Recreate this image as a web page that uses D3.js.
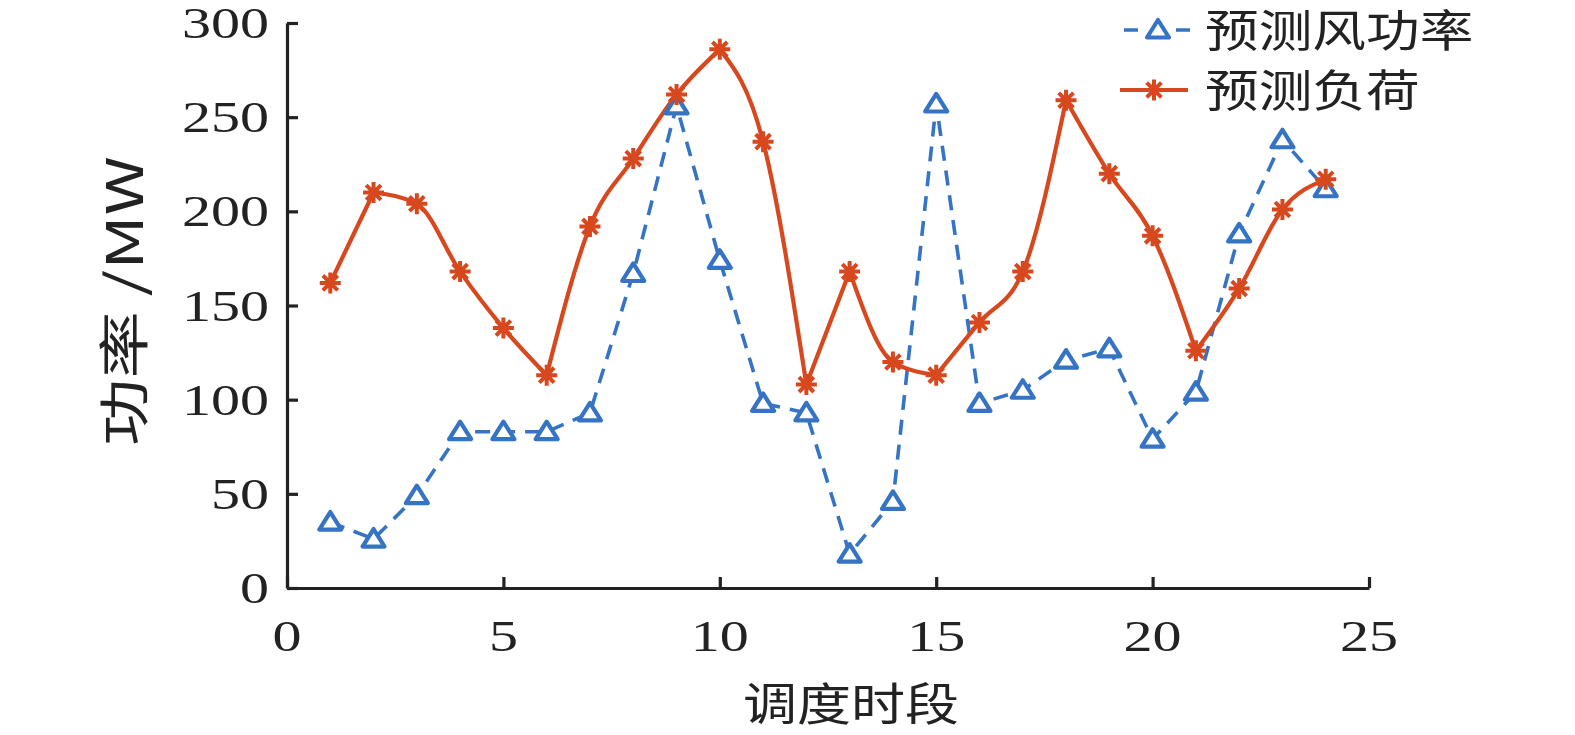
<!DOCTYPE html>
<html><head><meta charset="utf-8">
<script src="https://cdn.jsdelivr.net/npm/d3@7"></script>
<style>body{margin:0;background:#fff}svg{display:block}</style>
</head><body>
<svg id="c" width="1575" height="735"></svg>
<script>
const periods = d3.range(1, 25);
const windPower = [35,26,49,83,83,83,93,167,256,174,98,93,18,46,257,98,105,121,127,79,104,188,238,212];
const loadPower = [162,210,204,168,138,113,192,228,262,286,237,108,168,120,113,141,168,259,220,187,126,159,201,217];
const xTicks = [0,5,10,15,20,25];
const yTicks = [0,50,100,150,200,250,300];
const seriesNames = ["预测风功率","预测负荷"];
const xLabel = "调度时段";
const yLabel = "功率 /MW";

const svg = d3.select("#c");
const m = {l:287, r:1369, t:23, b:588};
const x = d3.scaleLinear().domain([0,25]).range([m.l, m.r]);
const y = d3.scaleLinear().domain([0,300]).range([m.b, m.t]);
const blue = "#3574c4", red = "#d8481f", ink = "#222";
const numFont = "'Liberation Serif', 'DejaVu Serif', serif";
const cjkFont = "'Noto Sans CJK SC', sans-serif";
const SX = 1.32;

// axes
const gx = svg.append("g").attr("transform", `translate(0,${m.b})`)
  .call(d3.axisBottom(x).tickValues(xTicks).tickSizeInner(-11).tickSizeOuter(0).tickFormat(d3.format("d")));
const gy = svg.append("g").attr("transform", `translate(${m.l},0)`)
  .call(d3.axisLeft(y).tickValues(yTicks).tickSizeInner(-11).tickSizeOuter(0).tickFormat(d3.format("d")));
[gx, gy].forEach(g => {
  g.select(".domain").attr("stroke", ink).attr("stroke-width", 3.2);
  g.selectAll(".tick line").attr("stroke", ink).attr("stroke-width", 3.2);
  g.selectAll(".tick text").remove();
});
xTicks.forEach(v => {
  svg.append("text").attr("transform", `translate(${x(v)},${m.b+63}) scale(${SX},1)`)
    .attr("text-anchor","middle").attr("font-family",numFont).attr("font-size",44).attr("fill",ink).text(v);
});
yTicks.forEach(v => {
  svg.append("text").attr("transform", `translate(${m.l-18},${y(v)+15}) scale(${SX},1)`)
    .attr("text-anchor","end").attr("font-family",numFont).attr("font-size",44).attr("fill",ink).text(v);
});
svg.append("text").attr("transform", `translate(851,721) scale(1.2,1)`)
  .attr("text-anchor","middle").attr("font-family",cjkFont).attr("font-size",45).attr("fill",ink).text(xLabel);
svg.append("text").attr("transform", `translate(143,301) rotate(-90) scale(1.32,1)`)
  .attr("text-anchor","middle").attr("font-family",cjkFont).attr("font-size",51).attr("fill",ink).text(yLabel);

// wind: straight dashed segments
const windLine = d3.line().x((d,i)=>x(periods[i])).y(d=>y(d));
svg.append("path").attr("d", windLine(windPower)).attr("fill","none").attr("stroke",blue)
  .attr("stroke-width",3.6).attr("stroke-dasharray","15,10");

// load: smooth within each monotone run, corners at local extrema
const runs = [];
let start = 0;
for (let i = 1; i < loadPower.length - 1; i++) {
  const a = loadPower[i] - loadPower[i-1], b = loadPower[i+1] - loadPower[i];
  if (a * b < 0) { runs.push([start, i]); start = i; }
}
runs.push([start, loadPower.length - 1]);
const runLine = d3.line().x(d=>x(d[0])).y(d=>y(d[1])).curve(d3.curveMonotoneX);
const loadD = runs.map(([s,e]) => runLine(d3.range(s, e+1).map(i => [periods[i], loadPower[i]]))).join("");
svg.append("path").attr("d", loadD).attr("fill","none").attr("stroke",red)
  .attr("stroke-width",4.2).attr("stroke-linecap","round").attr("stroke-linejoin","round");

const triPath = "M0,-10 L11,7.5 L-11,7.5 Z";
const starPath = "M-10.5,0 L10.5,0 M0,-10.5 L0,10.5 M-7.4,-7.4 L7.4,7.4 M-7.4,7.4 L7.4,-7.4";
svg.append("g").selectAll("path").data(windPower).join("path")
  .attr("transform",(d,i)=>`translate(${x(periods[i])},${y(d)})`)
  .attr("d",triPath).attr("fill","#fff").attr("stroke",blue).attr("stroke-width",4.2).attr("stroke-linejoin","round");
svg.append("g").selectAll("path").data(loadPower).join("path")
  .attr("transform",(d,i)=>`translate(${x(periods[i])},${y(d)})`)
  .attr("d",starPath).attr("fill","none").attr("stroke",red).attr("stroke-width",4);

// legend
const lg = svg.append("g");
lg.append("line").attr("x1",1124).attr("x2",1190).attr("y1",30).attr("y2",30)
  .attr("stroke",blue).attr("stroke-width",3.6).attr("stroke-dasharray","14,38");
lg.append("path").attr("transform","translate(1158,30)").attr("d",triPath).attr("fill","#fff")
  .attr("stroke",blue).attr("stroke-width",4.2).attr("stroke-linejoin","round");
lg.append("line").attr("x1",1120).attr("x2",1188).attr("y1",90).attr("y2",90)
  .attr("stroke",red).attr("stroke-width",4.2);
lg.append("path").attr("transform","translate(1154,90)").attr("d",starPath).attr("fill","none")
  .attr("stroke",red).attr("stroke-width",4);
seriesNames.forEach((s,i) => {
  lg.append("text").attr("transform",`translate(1205,${31+i*60+16}) scale(1.22,1)`)
    .attr("font-family",cjkFont).attr("font-size",44).attr("fill",ink).text(s);
});
</script>
</body></html>
